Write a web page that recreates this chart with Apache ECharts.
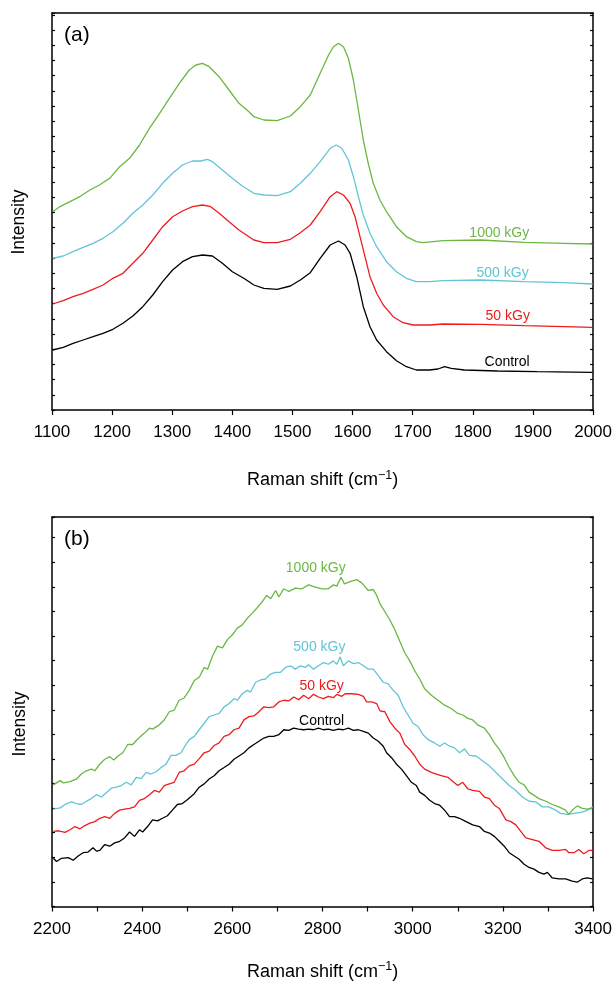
<!DOCTYPE html>
<html>
<head>
<meta charset="utf-8">
<script src="https://cdn.jsdelivr.net/npm/echarts@6/dist/echarts.min.js"></script>
<style>
html,body{margin:0;padding:0;background:#fff;}
#chart{width:615px;height:982px;}
</style>
</head>
<body>
<div id="chart"></div>
<script>
// ---------- Panel (a): 1100-2000 cm-1, [Raman shift, intensity (arb.)] ----------
const aControl = [[1101,60],[1118.7,62.7],[1135,66.7],[1151.8,70],[1168.3,73.3],[1184.8,76.7],[1201.3,80.7],[1218,86.7],[1234.5,94],[1251,103.3],[1267.6,115],[1284,128.3],[1300.6,140],[1317,148.3],[1333.7,153.3],[1350.4,155],[1366.8,154],[1383.4,146.7],[1400,138.3],[1419,131.7],[1435.8,125],[1452.4,121.7],[1474.5,120.7],[1496.5,124],[1513,130],[1529.6,137.3],[1546,151.7],[1562.7,165],[1576.5,169],[1587.5,165],[1595.8,156.7],[1606.8,133.3],[1617.8,103.3],[1628.9,83.3],[1640,70],[1656.4,58.3],[1673,49.3],[1689.5,43.3],[1706,40],[1728,40],[1742,41],[1753,43.3],[1764,41.7],[1786,40],[1841,39],[1907,38.3],[1999,37.7]];
const a50kGy = [[1101,106],[1118.7,109.3],[1135,113.3],[1151.8,116.7],[1168.3,120.7],[1184.8,125],[1201.3,131.7],[1218,136.7],[1234.5,146.7],[1251,156.7],[1267.6,170],[1284,183.3],[1300.6,193.3],[1317,199],[1333.7,203.3],[1350.4,205],[1364,203.3],[1378,196.7],[1394.5,188.3],[1411,180],[1427.6,173.3],[1435.8,170],[1452.4,167.3],[1474.5,167.3],[1496.5,170.7],[1513,177.3],[1529.6,185],[1546,198.3],[1562.7,213.3],[1573.7,218.3],[1584.8,215],[1595.8,206.7],[1604,193.3],[1612.3,173.3],[1620.6,153.3],[1628.9,133.3],[1640,116.7],[1651,105],[1667.5,93.3],[1684,87.3],[1700.6,85],[1728,85],[1750,86],[1813.6,85.7],[1885.3,84.3],[1951.5,83.3],[1999,82.7]];
const a500kGy = [[1101,151.7],[1118.7,154],[1135,158.3],[1151.8,162.7],[1168.3,166.7],[1184.8,171.7],[1201.3,178.3],[1218,186.7],[1234.5,196.7],[1251,205],[1267.6,215],[1284,226.7],[1300.6,236.7],[1317,245],[1333.7,249],[1347.5,249],[1358.5,250.7],[1366.8,248.3],[1383.4,240],[1400,231.7],[1416.4,224],[1435.8,216.7],[1452.4,215],[1474.5,214.3],[1496.5,218.3],[1513,226.7],[1529.6,236.7],[1546,248.3],[1562.7,261.7],[1572.6,265],[1582,261.7],[1593,250],[1601.3,233.3],[1609.6,213.3],[1617.8,195],[1628.9,176.7],[1640,163.3],[1656.4,148.3],[1673,138.3],[1689.5,131.7],[1706,128.3],[1728,128.3],[1750,129.3],[1813.6,130],[1885.3,128.3],[1951.5,127.3],[1999,126]];
const a1000kGy = [[1101,198.3],[1113,203.3],[1130,208.3],[1146,213.3],[1163,220],[1179,225],[1196,231.7],[1212.5,243.3],[1229,251.7],[1245.6,265],[1262,281.7],[1279,296.7],[1295.2,311.7],[1311.8,326.7],[1328.3,340],[1339.3,345],[1350.4,346.7],[1361.4,343.3],[1378,333.3],[1394.5,320],[1411,306.7],[1427.6,298.3],[1435.8,293.3],[1452.4,290],[1474.5,289.3],[1496.5,294],[1513,303.3],[1529.6,315],[1546,336.7],[1560,355],[1568.2,363.3],[1576.5,366.7],[1584.8,363.3],[1593,351.7],[1601.3,330],[1609.6,300],[1617.8,270],[1626,246.7],[1634.4,226.7],[1645.4,210],[1656.4,198.3],[1673,183.3],[1689.5,173.3],[1706,168.3],[1717,167.3],[1733.6,168.3],[1750,169.3],[1813.6,170],[1885.3,167.7],[1951.5,166.7],[1999,166]];

// ---------- Panel (b): 2200-3400 cm-1 ----------
const bControl = [[2203,49],[2210,45.7],[2221,49],[2236,49.7],[2247,47],[2258,51.3],[2269,54.7],[2280,55.3],[2291,59.7],[2298.5,56.3],[2306,57],[2317,63],[2328,61.3],[2339,64.7],[2350,66.3],[2361,69.7],[2372,75.7],[2383,71.3],[2394,78],[2401,75.7],[2412,81.3],[2423,88],[2434,87],[2445,89.7],[2456,92.3],[2467,98],[2478,103.7],[2489,104.7],[2500,108.5],[2504.4,109.7],[2515.5,114.7],[2526.5,121.3],[2537.5,124.7],[2548.5,129.7],[2559.6,133],[2570.6,138],[2581.6,141.3],[2592.7,144.7],[2603.7,149.7],[2614.7,153],[2625.7,156.3],[2636.8,161.3],[2647.8,164.7],[2658.8,168],[2669.9,171.3],[2680.9,173],[2691.9,173],[2703,174.7],[2714,179.7],[2725,179],[2736,181.3],[2747,180.3],[2758,179.7],[2769,180.3],[2780,179.7],[2791,181.3],[2802,179.7],[2813,180.3],[2824,179],[2835,180.3],[2846,179.7],[2857.4,181.3],[2868.4,179],[2879.4,179.7],[2890.5,178],[2901.5,176.3],[2912.5,171.3],[2923.6,168],[2934.6,163],[2942,156.3],[2953,151.3],[2964,144.7],[2975,139.7],[2986,133],[2997,126.3],[3008,123],[3015.5,116.3],[3026.5,113],[3037.5,108],[3048.5,104.7],[3059.6,103],[3070.6,98],[3081.6,91.3],[3092.7,91.3],[3103.7,89.7],[3118.4,86.3],[3133,83],[3148,81.3],[3159,76.3],[3170,74.7],[3181,71.3],[3192,66.3],[3203,61.3],[3214,54.7],[3225,51.3],[3236,48],[3247,43],[3258,39.7],[3269,38],[3280,34.7],[3291,33],[3298.6,34.7],[3309.6,29],[3324.3,28],[3339,28],[3353.7,25.7],[3364.7,24.7],[3376,28],[3387,29],[3399,28]];
const b50kGy = [[2203,76.3],[2214,77],[2229,75.3],[2240,78],[2251,81.3],[2262,79],[2273,82.3],[2284,84.7],[2295,86.3],[2306,89.7],[2317,91.3],[2328,89.7],[2339,94.7],[2350,98],[2361,99],[2372,99.7],[2383,101.3],[2394,108],[2405,109.7],[2416,113.7],[2427,118],[2438,116.3],[2449,123],[2460,124.7],[2471,126.3],[2482,136.3],[2493,138],[2504.4,143],[2515.5,144.7],[2526.5,150.3],[2537.5,156.3],[2548.5,158],[2559.6,163.7],[2570.6,166.3],[2581.6,173],[2592.7,174.7],[2603.7,179.7],[2614.7,181.3],[2625.7,189.7],[2636.8,193],[2647.8,193.7],[2658.8,198],[2669.9,203],[2680.9,202.3],[2691.9,203],[2703,208],[2714,209.7],[2725,209],[2736,213],[2747,210.3],[2758,214.7],[2769,211.3],[2780,215.7],[2791,213],[2802,211.3],[2813,213.7],[2824,212.3],[2831.6,215.7],[2842.7,213.7],[2850,216.3],[2864.7,216.3],[2879.4,215.7],[2890.5,213.7],[2897.8,208],[2908.9,208],[2920,206.3],[2927.2,199],[2938.3,198],[2949.3,188],[2960.3,181.3],[2971.3,176.3],[2982.4,164.7],[2993.4,159.7],[3004.4,153],[3015.5,144.7],[3026.5,139.7],[3041.2,136.3],[3052.2,134.7],[3063.3,133],[3078,131.3],[3089,127],[3100,123],[3111,126.3],[3122,119.7],[3133,118],[3148,117],[3159,111.3],[3170,109.7],[3181,103],[3192,99.7],[3206.6,88],[3217.7,86.3],[3228.7,83],[3239.7,76.3],[3250.8,69.7],[3265.5,68],[3280.2,66.3],[3294.9,59.7],[3309.6,57],[3324.3,57],[3339,58],[3346.4,54.7],[3357.4,54.7],[3368.4,58],[3379.4,53.7],[3390.5,57],[3399,57]];
const b500kGy = [[2203,99],[2218,100.3],[2232.5,104.7],[2243.4,106.3],[2254.5,104.7],[2265,103.7],[2276.5,107],[2287,109.7],[2298.5,113.7],[2309.6,111.3],[2320.6,115.7],[2331.6,120.3],[2342.7,121.3],[2353.7,123],[2364.7,126.3],[2375.7,123.7],[2386.8,131.3],[2397.8,130],[2408.8,136.3],[2419.8,134.7],[2430.9,137],[2441.9,141.3],[2452.9,144.7],[2463.9,153.7],[2475,153.7],[2486,156.3],[2497,164.7],[2504.4,169.7],[2515.5,173],[2526.5,179.7],[2537.5,186.3],[2548.5,193],[2559.6,194.7],[2570.6,196.3],[2581.6,203],[2592.7,206.3],[2603.7,211.3],[2611,209.7],[2622,216.3],[2633,219.7],[2640.5,218],[2651.5,228],[2662.5,230.3],[2673.6,231.3],[2684.6,236.3],[2695.6,238],[2706.6,238],[2717.7,243],[2728.7,244.7],[2739.7,241.3],[2750.8,244.7],[2761.8,243],[2769,245.7],[2780,241.3],[2791,244.7],[2802,248],[2813,246.3],[2824,249.7],[2831.6,246.3],[2839,253.7],[2846,244.7],[2857.4,249.7],[2868.4,247],[2879.4,248],[2890.5,244.7],[2901.5,241.3],[2912.5,241.3],[2923.6,234.7],[2934.6,228],[2945.6,226.3],[2956.6,219.7],[2967.7,214.7],[2978.7,203],[2989.7,194.7],[3000.8,186.3],[3011.8,183],[3022.8,174.7],[3033.9,169.7],[3048.5,166.3],[3059.6,163],[3070.6,166.3],[3081.6,163],[3092.7,161.3],[3103.7,156.3],[3114.7,160.3],[3125.8,153.7],[3140.5,153],[3155.2,148],[3169.9,143],[3184.6,136.3],[3199.3,129.7],[3214,123],[3228.7,118],[3243.4,111.3],[3258,107],[3272.8,106.3],[3287.5,101.3],[3302.2,101.3],[3317,98],[3328,94.7],[3342.7,93.7],[3357.4,94.7],[3372,95.7],[3383,97],[3399,101.3]];
const b1000kGy = [[2203,123.7],[2218,128],[2225,125.7],[2240,127],[2254.5,129.7],[2265,134.7],[2276,138],[2287,139.7],[2295,138],[2306,144.7],[2317,149.7],[2328,152.3],[2337,149],[2346.5,153],[2357,156.3],[2368,164.7],[2379,164.7],[2390,170.3],[2405,176.3],[2416,181.3],[2423,180.3],[2438,184.7],[2449,189.7],[2460,198],[2471,199.7],[2482,209.7],[2493,212],[2504.4,219.7],[2515.5,229.7],[2526.5,233],[2537.5,243],[2545,241.3],[2556,254.7],[2567,264.7],[2578,263],[2589,271.3],[2600,276.3],[2611,283],[2622,286.3],[2633,293],[2644,298],[2655,303.7],[2666,309.7],[2676,316.3],[2685,313],[2696,321.3],[2703,314.7],[2714,323],[2725,320.3],[2740,323.7],[2754.5,323],[2769,327],[2784,324.7],[2799,323],[2813,323],[2824,327],[2831.6,325.7],[2841,334.7],[2848.5,328],[2861,330.3],[2875.8,332.3],[2886.8,329],[2901.5,321.3],[2912.5,322.3],[2920,316.3],[2927.2,308],[2938.3,299.7],[2949.3,291.3],[2960.3,281.3],[2971.3,269.7],[2982.4,258],[2993.4,249.7],[3004.4,239.7],[3015.5,231.3],[3026.5,221.3],[3041.2,214.7],[3056,209.7],[3070.6,204.7],[3085.3,201.3],[3100,196.3],[3111,194.7],[3122,191.3],[3133,189.7],[3144,184.7],[3159,181.3],[3170,174.7],[3181,166.3],[3192,159.7],[3203,151.3],[3214,141.3],[3225,133],[3236,126.3],[3247,123.7],[3258,116.3],[3269,113],[3280,109.7],[3295,107],[3309.6,103.7],[3324,101.3],[3339,98],[3346,93.7],[3354,98],[3365,102.3],[3376,99.7],[3387,99],[3399,99.7]];

// ---------- names, colours, tick labels, label anchors ----------
const seriesNames = ['Control','50 kGy','500 kGy','1000 kGy'];
const seriesColors = ['#000000','#ee1c1c','#62c5d6','#6ab842'];
const panelA = [aControl, a50kGy, a500kGy, a1000kGy];
const panelB = [bControl, b50kGy, b500kGy, b1000kGy];
const labelPosA = [[1857,47.7],[1858,94],[1849.5,137.3],[1844,177.3]];
const labelPosB = [[2798,188.7],[2798,223.7],[2793,263.7],[2785,343.7]];
const ticksA = [1100,1200,1300,1400,1500,1600,1700,1800,1900,2000];
const ticksB = [2200,2400,2600,2800,3000,3200,3400];

const FONT = "'Liberation Sans', Arial, sans-serif";
const chart = echarts.init(document.getElementById('chart'), null, {renderer:'canvas'});

const axisLineStyle = {color:'#000', width:1.5};
function xAx(grid, min, max, interval, labels, nameGap){
  return [{
    type:'value', gridIndex:grid, min:min, max:max, interval:interval, position:'bottom',
    axisLine:{show:true, onZero:false, lineStyle:axisLineStyle},
    axisTick:{show:true, inside:false, length:5, lineStyle:{color:'#000', width:1.2}},
    axisLabel:{show:true, margin:14, fontFamily:FONT, fontSize:17, color:'#000',
      formatter:function(v){ return labels.indexOf(v) >= 0 ? String(v) : ''; }},
    splitLine:{show:false},
    name:'Raman shift (cm{sup|−1})', nameLocation:'middle', nameGap:nameGap,
    nameTextStyle:{fontFamily:FONT, fontSize:18, color:'#000',
      rich:{sup:{fontFamily:FONT, fontSize:12.5, color:'#000', verticalAlign:'top', padding:[0,0,10,0]}}}
  },{
    type:'value', gridIndex:grid, min:min, max:max, position:'top',
    axisLine:{show:true, onZero:false, lineStyle:axisLineStyle},
    axisTick:{show:false}, axisLabel:{show:false}, splitLine:{show:false}
  }];
}
function yAx(grid, max, interval){
  const base = {type:'value', gridIndex:grid, min:0, max:max, interval:interval,
    axisLine:{show:true, onZero:false, lineStyle:axisLineStyle},
    axisTick:{show:true, inside:true, length:3, lineStyle:{color:'#000', width:1.2}},
    axisLabel:{show:false}, splitLine:{show:false}};
  return [Object.assign({position:'left'}, base), Object.assign({position:'right'}, base)];
}

const series = [];
function addPanel(data, labelPos, xi, yi){
  data.forEach(function(d, i){
    series.push({
      type:'line', name:seriesNames[i], xAxisIndex:xi, yAxisIndex:yi, data:d,
      showSymbol:false, smooth:false, silent:true,
      lineStyle:{color:seriesColors[i], width:1.3},
      markPoint:{symbol:'circle', symbolSize:0, silent:true,
        data:[{coord:labelPos[i], value:seriesNames[i]}],
        label:{show:true, position:'inside', formatter:seriesNames[i],
          fontFamily:FONT, fontSize:14, color:seriesColors[i]}}
    });
  });
}
addPanel(panelA, labelPosA, 0, 0);
addPanel(panelB, labelPosB, 2, 2);

chart.setOption({
  animation:false,
  backgroundColor:'#fff',
  grid:[
    {left:52, right:19, top:13, height:397},
    {left:52, right:19, top:517, height:396}
  ],
  xAxis: xAx(0, 1100, 2000, 100, ticksA, 59).concat(xAx(1, 2200, 3400, 100, ticksB, 54)),
  yAxis: yAx(0, 397, 15.2).concat(yAx(1, 396, 25)),
  series: series,
  graphic:[
    {type:'text', left:64, top:25, style:{text:'(a)', font:"21px 'Liberation Sans', Arial", fill:'#000'}},
    {type:'text', left:64, top:529, style:{text:'(b)', font:"21px 'Liberation Sans', Arial", fill:'#000'}},
    {type:'text', x:19, y:222, rotation:Math.PI/2,
      style:{text:'Intensity', font:"17.5px 'Liberation Sans', Arial", fill:'#000', align:'center', verticalAlign:'middle'}},
    {type:'text', x:20, y:724, rotation:Math.PI/2,
      style:{text:'Intensity', font:"17.5px 'Liberation Sans', Arial", fill:'#000', align:'center', verticalAlign:'middle'}}
  ]
});
</script>
</body>
</html>
